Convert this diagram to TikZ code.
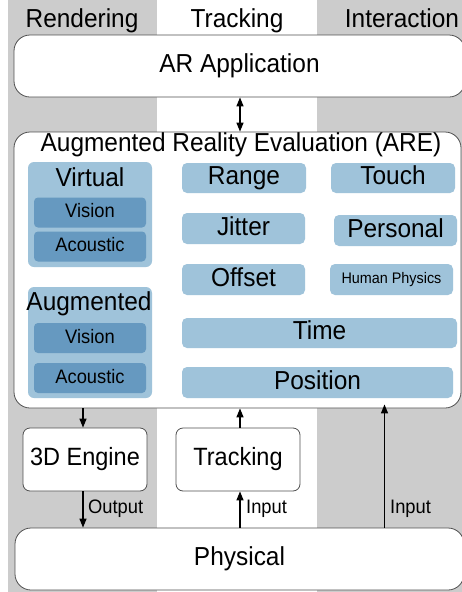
\documentclass[tikz,border=0pt]{standalone}
\usepackage{fontspec}
\setmainfont{Liberation Sans}[FakeStretch=0.94]
\usetikzlibrary{arrows.meta}
\definecolor{lanegray}{HTML}{CCCCCC}
\definecolor{paleblue}{HTML}{9FC3DA}
\definecolor{deepblue}{HTML}{6699C0}
\definecolor{edgegray}{HTML}{505050}
\tikzset{
  bigfont/.style={font=\fontsize{26}{30}\selectfont},
  bigbox/.style={draw=edgegray, line width=0.8pt, fill=white, rounded corners=16pt,
    inner sep=0pt, bigfont, text height=18.6pt, text depth=6pt},
  midbox/.style={draw=edgegray, line width=0.8pt, fill=white, rounded corners=7pt,
    inner sep=0pt, minimum width=124pt, minimum height=63pt,
    font=\fontsize{25}{30}\selectfont, text height=18pt, text depth=6pt},
  group/.style={fill=paleblue, rounded corners=6pt, inner sep=0pt},
  metric/.style={fill=paleblue, rounded corners=5pt, inner sep=0pt,
    bigfont, text height=18.6pt, text depth=5pt},
  channel/.style={fill=deepblue, rounded corners=4pt, inner sep=0pt,
    minimum width=112pt, minimum height=30pt, text height=14pt, text depth=3.5pt,
    font=\fontsize{19.5}{23}\selectfont},
  big/.style={bigfont, inner sep=0pt},
  small/.style={font=\fontsize{19.5}{23}\selectfont, inner sep=0pt},
  flow/.style={line width=1.3pt, -{Triangle[length=9pt,width=7pt]}},
  twoway/.style={line width=1.3pt, {Triangle[length=9pt,width=7pt]}-{Triangle[length=9pt,width=7pt]}},
}
\begin{document}
\begin{tikzpicture}[x=1pt,y=-1pt]
\useasboundingbox (0,0) rectangle (462,592);
% lanes
\fill[white] (0,0) rectangle (462,592);
\fill[lanegray] (8,0) rectangle (157,592);
\fill[lanegray] (317,0) rectangle (462,592);
\node[big, anchor=base] (hRend) at (82,27) {Rendering};
\node[big, anchor=base] (hTrack) at (237,27) {Tracking};
\node[big, anchor=base] (hInter) at (402,27) {Interaction};

% application layer
\node[bigbox, minimum width=451pt, minimum height=62pt] (app) at (239.5,66) {AR Application};

% evaluation layer
\node[bigbox, minimum width=447pt, minimum height=276pt] (are) at (237.5,270) {};
\node[big, anchor=base] (areTitle) at (241,151) {Augmented Reality Evaluation (ARE)};

\node[group, minimum width=124pt, minimum height=105pt] (virt) at (90,214.5) {};
\node[big, anchor=base] (virtLbl) at (90,186) {Virtual};
\node[channel] (vVis) at (90,212.5) {Vision};
\node[channel] (vAco) at (90,246.5) {Acoustic};

\node[group, minimum width=124pt, minimum height=111pt] (aug) at (90,342.5) {};
\node[big, anchor=base] (augLbl) at (89,310) {Augmented};
\node[channel] (aVis) at (90,338) {Vision};
\node[channel] (aAco) at (90,378) {Acoustic};

\node[metric, minimum width=124pt, minimum height=30pt] (range) at (244,178) {Range};
\node[metric, minimum width=124pt, minimum height=30pt] (touch) at (393,178) {Touch};
\node[metric, minimum width=123pt, minimum height=31pt] (jitter) at (243.5,228.5) {Jitter};
\node[metric, minimum width=123pt, minimum height=31pt] (personal) at (395.5,230.5) {Personal};
\node[metric, minimum width=123pt, minimum height=31pt] (offset) at (243.5,279.5) {Offset};
\node[metric, minimum width=123pt, minimum height=31pt, font=\fontsize{15.3}{18}\selectfont,
  text height=11pt, text depth=3pt] (human) at (391.5,279.5) {Human Physics};
\node[metric, minimum width=275pt, minimum height=30pt] (time) at (319.5,333) {Time};
\node[metric, minimum width=271pt, minimum height=31pt] (pos) at (317.5,382.5) {Position};

% engines
\node[midbox] (engine) at (85,459.5) {3D Engine};
\node[midbox] (tracker) at (238,459.5) {Tracking};

% physical layer
\node[bigbox, minimum width=449pt, minimum height=62pt] (phys) at (239.5,559) {Physical};

% connectors
\coordinate (renderX) at (83,0);
\coordinate (trackX) at (240,0);
\coordinate (interX) at (384.5,0);
\draw[twoway] (app.south -| trackX) -- (are.north -| trackX);
\draw[flow] (are.south -| renderX) -- (engine.north -| renderX);
\draw[flow] (engine.south -| renderX) -- (phys.north -| renderX);
\draw[flow] (phys.north -| trackX) -- (tracker.south -| trackX);
\draw[flow] (tracker.north -| trackX) -- (are.south -| trackX);
\draw[flow] (phys.north -| interX) -- ([yshift=4pt]are.south -| interX);
\node[small, anchor=base west] (outLbl) at (88,513) {Output};
\node[small, anchor=base west] (inLbl) at (246,513) {Input};
\node[small, anchor=base west] (inLbl2) at (390,513) {Input};
\end{tikzpicture}
\end{document}
